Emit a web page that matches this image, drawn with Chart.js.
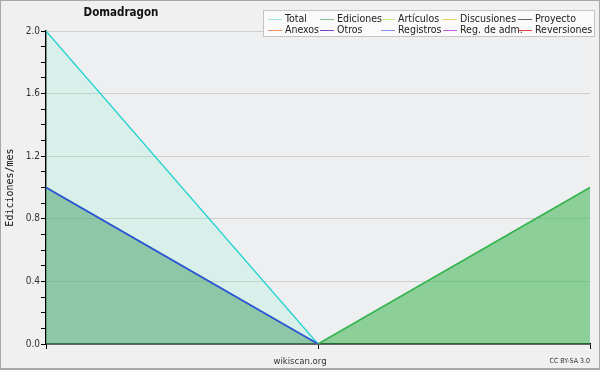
<!DOCTYPE html>
<html>
<head>
<meta charset="utf-8">
<script src="https://cdn.jsdelivr.net/npm/chart.js@4"></script>
<style>
  html, body { margin: 0; padding: 0; background: #f0f0f0; }
  #wrap { position: relative; width: 600px; height: 370px; overflow: hidden; font-family: "DejaVu Sans Condensed", "DejaVu Sans", sans-serif; font-stretch: condensed; }
  #wrap canvas { position: absolute; left: 0; top: 0; }
  #frame { position: absolute; left: 0; top: 0; width: 600px; height: 370px; box-sizing: border-box; border: 1px solid #a8a8a8; border-bottom-width: 2px; pointer-events: none; }
  #title { position: absolute; left: 61px; width: 120px; top: 5px; text-align: center; font-weight: bold; font-size: 11.5px; color: #111; }
  #legend { position: absolute; left: 263px; top: 10px; width: 332px; height: 27px; background: #fafafa; border: 1px solid #c4c4c4; box-sizing: border-box; }
  .item { position: absolute; font-size: 10.5px; color: #222; line-height: 11px; white-space: nowrap; }
  .sw { position: absolute; width: 14px; height: 0; border-top: 1px solid; }
  #site { position: absolute; left: 250px; width: 100px; top: 355px; text-align: center; font-size: 9.5px; color: #333; }
  #lic { position: absolute; left: 520px; width: 70px; top: 357px; text-align: right; font-size: 7px; color: #333; }
</style>
</head>
<body>
<div id="wrap">
  <canvas id="chart" width="600" height="370"></canvas>
  <div id="title">Domadragon</div>
  <div id="legend"></div>
  <div id="site">wikiscan.org</div>
  <div id="lic">CC BY-SA 3.0</div>
  <div id="frame"></div>
</div>
<script>
// datos
const periodos = ['1', '2', '3'];
const total = [2, 0, 1];
const ediciones = [1, 0, 1];
const registros = [1, 0, null];
const yTicks = [0, 0.4, 0.8, 1.2, 1.6, 2.0];

const leyenda = ['Total', 'Ediciones', 'Artículos', 'Discusiones', 'Proyecto',
                 'Anexos', 'Otros', 'Registros', 'Reg. de adm.', 'Reversiones'];
const leyendaColores = ['#9fe0e0', '#80c080', '#c0f080', '#f0d060', '#606060',
                        '#f09060', '#8040c0', '#8090f0', '#c060e0', '#e04040'];

// leyenda en 2 filas x 5 columnas
const colX = [4, 56, 117, 179, 254];
const legendBox = document.getElementById('legend');
leyenda.forEach(function(nombre, i) {
    const col = i % 5, fila = Math.floor(i / 5);
    const sw = document.createElement('div');
    sw.className = 'sw';
    sw.style.left = colX[col] + 'px';
    sw.style.top = (8 + fila * 11) + 'px';
    sw.style.borderColor = leyendaColores[i];
    legendBox.appendChild(sw);
    const t = document.createElement('div');
    t.className = 'item';
    t.textContent = nombre;
    t.style.left = (colX[col] + 17) + 'px';
    t.style.top = (2 + fila * 11) + 'px';
    legendBox.appendChild(t);
});

// fondo del área del gráfico
const fondoArea = {
    id: 'fondoArea',
    beforeDraw(chart) {
        const a = chart.chartArea;
        const c = chart.ctx;
        c.save();
        c.fillStyle = '#eeeff1';
        c.fillRect(a.left, a.top, a.right - a.left, a.bottom - a.top);
        c.restore();
    }
};

const esMayor = v => yTicks.some(t => Math.abs(t - v) < 1e-6);

new Chart(document.getElementById('chart'), {
    type: 'line',
    data: {
        labels: periodos,
        datasets: [
            {
                label: 'Registros',
                data: registros,
                borderColor: '#2f4fe6',
                backgroundColor: 'rgba(153,150,252,0.15)',
                borderWidth: 1.5,
                fill: 'origin'
            },
            {
                label: 'Ediciones',
                data: ediciones,
                borderColor: '#3cb44a',
                backgroundColor: 'rgba(56,172,66,0.48)',
                borderWidth: 1.5,
                fill: 'origin'
            },
            {
                label: 'Total',
                data: total,
                borderColor: '#22d2d0',
                backgroundColor: 'rgba(128,244,206,0.2)',
                borderWidth: 1.3,
                fill: 'origin'
            }
        ]
    },
    options: {
        responsive: false,
        animation: false,
        events: [],
        elements: { point: { radius: 0 }, line: { tension: 0 } },
        layout: { padding: { left: 0, top: 31, right: 10, bottom: 0 } },
        plugins: { legend: { display: false }, tooltip: { enabled: false } },
        scales: {
            x: {
                offset: false,
                border: { color: '#000', width: 1.5 },
                grid: { drawOnChartArea: false, tickLength: 5, color: '#000' },
                ticks: { display: false },
                afterFit(scale) { scale.height = 26; }
            },
            y: {
                min: 0,
                max: 2,
                border: { color: '#000', width: 1.5 },
                ticks: {
                    stepSize: 0.1,
                    padding: 1,
                    color: '#333',
                    font: { family: 'DejaVu Sans Condensed', size: 10 },
                    callback: v => esMayor(v) ? v.toFixed(1) : ''
                },
                grid: {
                    tickLength: 5,
                    color: c => esMayor(c.tick.value) ? '#cfcfcf' : 'rgba(0,0,0,0)',
                    tickColor: '#000'
                },
                title: {
                    display: true,
                    text: 'Ediciones/mes',
                    color: '#111',
                    padding: { top: 4, bottom: 0 },
                    font: { family: 'DejaVu Sans Mono', size: 10 }
                },
                afterFit(scale) { scale.width = 46; }
            }
        }
    },
    plugins: [fondoArea]
});
</script>
</body>
</html>
